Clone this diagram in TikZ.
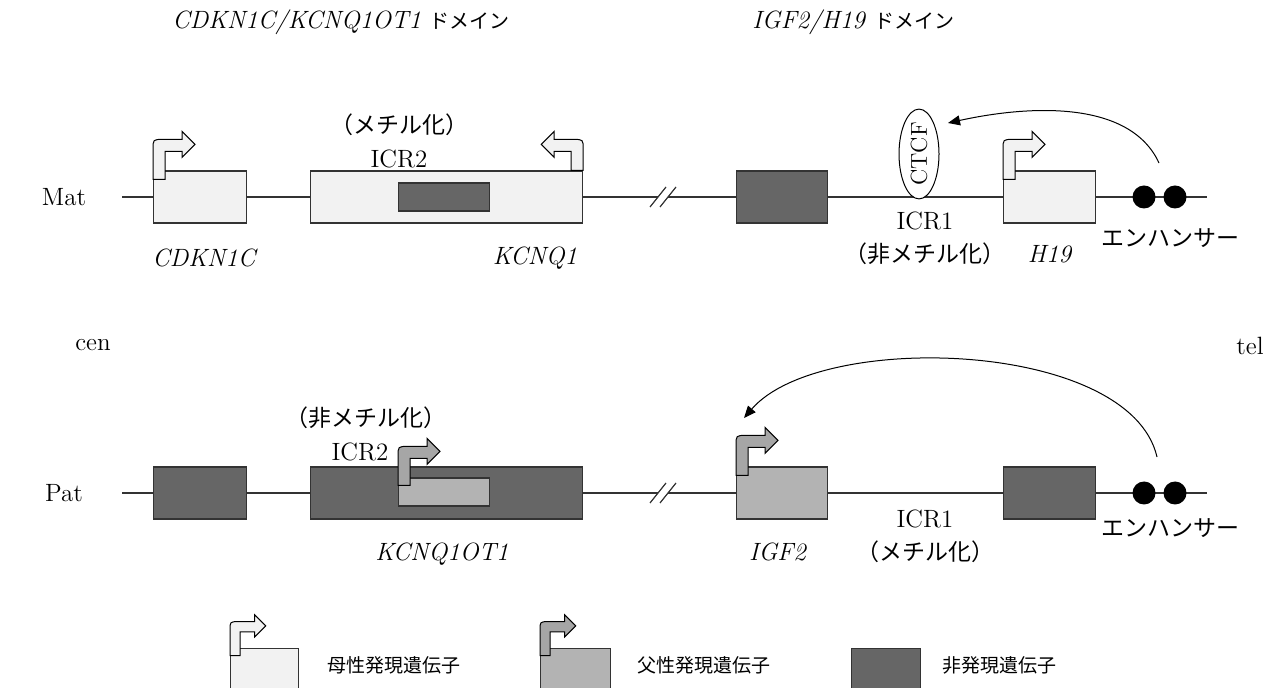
\documentclass[tikz,border=0pt]{standalone}
\usepackage{fontspec}
\newfontfamily\jpfont{Noto Sans CJK JP}
\usetikzlibrary{arrows.meta,shapes.geometric}
\definecolor{MatFill}{HTML}{F2F2F2}
\definecolor{PatFill}{HTML}{B3B3B3}
\definecolor{PatArrow}{HTML}{A6A6A6}
\definecolor{SilFill}{HTML}{666666}
\definecolor{LineGray}{HTML}{333333}

% bent promoter arrow, drawn from the top-left corner of a gene box
\newcommand{\promoter}[3]{%
  \draw[#1,fill=#2,line width=0.5pt]
    (0,#3) -- (0,-21) .. controls (0,-31) .. (10,-31) -- (29,-31) -- (29,-39)
    -- (42,-26) -- (29,-13) -- (29,-19) -- (12,-19) -- (12,#3) -- cycle;}

\begin{document}
\begin{tikzpicture}[x=0.5pt,y=-0.5pt,
    every node/.style={font=\fontsize{12.5}{14}\selectfont,inner sep=1pt},
    jp/.style={font=\jpfont\fontsize{11.5}{13}\selectfont},
    title/.style={anchor=west,font=\fontsize{12.5}{14}\selectfont},
    legtext/.style={font=\jpfont\fontsize{9.5}{11}\selectfont,anchor=west},
    gene/.style={draw=LineGray,line width=0.6pt,minimum height=26pt,inner sep=0pt,anchor=west},
    matgene/.style={gene,fill=MatFill},
    patgene/.style={gene,fill=PatFill},
    silgene/.style={gene,fill=SilFill},
    enh/.style={circle,fill=black,minimum size=11.5pt,inner sep=0pt},
    strand/.style={LineGray,line width=0.6pt},
    arr/.style={-{Triangle[length=6pt,width=5pt]},line width=0.5pt}
  ]
    \useasboundingbox (0,0) rectangle (1267,688);

    % domain titles
    \node[title] (titleL) at (170,22) {\textit{CDKN1C/KCNQ1OT1} {\jpfont\fontsize{10}{12}\selectfont ドメイン}};
    \node[title] (titleR) at (750,22) {\textit{IGF2/H19} {\jpfont\fontsize{10}{12}\selectfont ドメイン}};

    \node (mat) at (64,197) {Mat};
    \node (pat) at (64,493) {Pat};
    \node (cen) at (93,345) {cen};
    \node (tel) at (1250,346) {tel};

    % strands with break marks
    \foreach \yy in {197,493} {
      \draw[strand] (122,\yy) -- (658,\yy);
      \draw[strand] (668,\yy) -- (1207,\yy);
      \foreach \xx in {658,668}
        \draw[strand] (\xx-8,\yy+10) -- (\xx+8,\yy-10);
    }

    % maternal allele
    \node[matgene,minimum width=46.5pt] (cdknM) at (153,197) {};
    \node[matgene,minimum width=136pt] (kcnqM) at (310,197) {};
    \node[silgene,minimum width=45.5pt,minimum height=14pt] (icrtwoM) at (398,197) {};
    \node[silgene,minimum width=45.5pt] (igfM) at (736,197) {};
    \node[matgene,minimum width=46pt] (hM) at (1003,197) {};
    \promoter{shift={(cdknM.north west)}}{MatFill}{9}
    \promoter{shift={(kcnqM.north east)},xscale=-1}{MatFill}{0}
    \promoter{shift={(hM.north west)}}{MatFill}{9}

    % paternal allele
    \node[silgene,minimum width=46.5pt] (dkP) at (153,493) {};
    \node[silgene,minimum width=136pt] (kcnqotP) at (310,493) {};
    \node[patgene,minimum width=45.5pt,minimum height=14pt] (icrtwoP) at (398,492) {};
    \node[patgene,minimum width=45.5pt] (igfP) at (736,493) {};
    \node[silgene,minimum width=46pt] (hP) at (1003,493) {};
    \promoter{shift={(icrtwoP.north west)}}{PatArrow}{8}
    \promoter{shift={(igfP.north west)}}{PatArrow}{9}

    \foreach \n/\xx in {1/1144,2/1175} {
      \node[enh] (enhM\n) at (\xx,197) {};
      \node[enh] (enhP\n) at (\xx,493) {};
    }

    % labels, maternal
    \node[jp] (methM) at (399,125) {（メチル化）};
    \node (icrtwoMl) at (399,159) {ICR2};
    \node (cdknl) at (205,258) {\textit{CDKN1C}};
    \node (kcnql) at (535,258) {\textit{KCNQ1}};
    \node[ellipse,draw,fill=white,line width=0.5pt,rotate=90,inner sep=0pt,minimum height=20pt,font=\fontsize{11.5}{13}\selectfont] (ctcf) at (919,154) {CTCF};
    \node (icroneMl) at (925,221) {ICR1};
    \node[jp] (unmethM) at (925,254) {（非メチル化）};
    \node (hl) at (1050,254) {\textit{H19}};
    \node[jp] (enhMl) at (1170,238) {エンハンサー};

    % labels, paternal
    \node[jp] (unmethP) at (366,418) {（非メチル化）};
    \node (icrtwoPl) at (360,452) {ICR2};
    \node (kcnqotl) at (442,554) {\textit{KCNQ1OT1}};
    \node (igfl) at (778,552) {\textit{IGF2}};
    \node (icronePl) at (925,519) {ICR1};
    \node[jp] (methP) at (925,552) {（メチル化）};
    \node[jp] (enhPl) at (1170,528) {エンハンサー};

    % enhancer action
    \coordinate (matfrom) at (1159,163);
    \coordinate (matto) at (948,123);
    \draw[arr] (matfrom) .. controls (1130,100) and (1030,105) .. (matto);
    \coordinate (patfrom) at (1157,457);
    \coordinate (patto) at (744,418);
    \draw[arr] (patfrom) .. controls (1130,340) and (820,330) .. (patto);

    % legend
    \node[matgene,minimum width=34pt,minimum height=22pt,anchor=north west] (legmat) at (230,648) {};
    \promoter{shift={(legmat.north west)},scale=0.85}{MatFill}{9}
    \node[legtext] (legmatl) at (325,665) {母性発現遺伝子};
    \node[patgene,minimum width=35pt,minimum height=22pt,anchor=north west] (legpat) at (540,648) {};
    \promoter{shift={(legpat.north west)},scale=0.85}{PatArrow}{9}
    \node[legtext] (legpatl) at (635,665) {父性発現遺伝子};
    \node[silgene,minimum width=34.5pt,minimum height=22pt,anchor=north west] (legsil) at (851,648) {};
    \node[legtext] (legsill) at (940,665) {非発現遺伝子};
\end{tikzpicture}
\end{document}
